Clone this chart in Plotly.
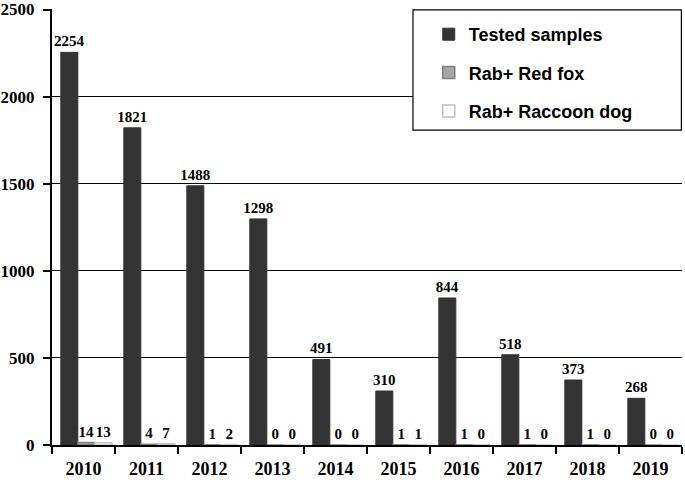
import plotly.graph_objects as go

years = ["2010", "2011", "2012", "2013", "2014", "2015", "2016", "2017", "2018", "2019"]
tested = [2254, 1821, 1488, 1298, 491, 310, 844, 518, 373, 268]
red_fox = [14, 4, 1, 0, 0, 1, 1, 1, 1, 0]
raccoon = [13, 7, 2, 0, 0, 1, 0, 0, 0, 0]

label_font = dict(family="Liberation Serif", size=15, color="black", weight="bold")
BAR_W = 0.27

fig = go.Figure()
fig.add_trace(go.Bar(
    x=years, y=tested, name="Tested samples",
    marker=dict(color="#333333", line=dict(color="#333333", width=1)),
    text=tested, textposition="outside", textfont=label_font,
    constraintext="none", cliponaxis=False, legendgroup="a",
    width=BAR_W, offset=-0.36,
))
fig.add_trace(go.Bar(
    x=years, y=red_fox, name="Rab+ Red fox",
    marker=dict(color="#a6a6a6", line=dict(color="#7f7f7f", width=1.5)),
    text=red_fox, textposition="outside", textfont=label_font,
    constraintext="none", cliponaxis=False, legendgroup="b",
    width=BAR_W, offset=-0.09,
))
fig.add_trace(go.Bar(
    x=years, y=raccoon, name="Rab+ Raccoon dog",
    marker=dict(color="#ffffff", line=dict(color="#c0c0c0", width=1.5)),
    text=raccoon, textposition="outside", textfont=label_font,
    constraintext="none", cliponaxis=False, legendgroup="c",
    width=BAR_W, offset=0.18,
))

fig.update_layout(
    width=685, height=485,
    margin=dict(l=52, r=3, t=9, b=40),
    paper_bgcolor="white", plot_bgcolor="white",
    barmode="group",
    showlegend=True,
    legend=dict(
        x=0.598, y=0.984, xanchor="left", yanchor="top",
        bgcolor="rgba(0,0,0,0)", borderwidth=0,
        font=dict(family="Arial", size=18, color="black", weight="bold"),
        tracegroupgap=12, traceorder="grouped",
    ),
    shapes=[dict(
        type="rect", xref="paper", yref="paper",
        x0=0.573, x1=0.999, y0=0.722, y1=0.998,
        line=dict(color="black", width=1.2), fillcolor="white", layer="above",
    )],
    xaxis=dict(
        type="category", showgrid=False, automargin=False,
        showline=True, linecolor="black", linewidth=2,
        ticks="outside", tickson="boundaries", ticklen=7, tickwidth=2, tickcolor="black",
        ticklabelstandoff=6,
        tickfont=dict(family="Liberation Serif", size=18, color="black", weight="bold"),
    ),
    yaxis=dict(
        range=[0, 2503], tickvals=[0, 500, 1000, 1500, 2000, 2500], automargin=False,
        ticklabeloverflow="allow",
        showgrid=True, gridcolor="black", gridwidth=1,
        showline=True, linecolor="black", linewidth=2,
        ticks="outside", ticklen=7, tickwidth=2, tickcolor="black",
        ticklabelstandoff=5,
        tickfont=dict(family="Liberation Serif", size=17, color="black", weight="bold"),
        zeroline=False,
    ),
)

fig.write_html(
    "out.html",
    config={"displayModeBar": False},
    post_script="document.body.style.margin='0';document.body.style.padding='0';",
)
